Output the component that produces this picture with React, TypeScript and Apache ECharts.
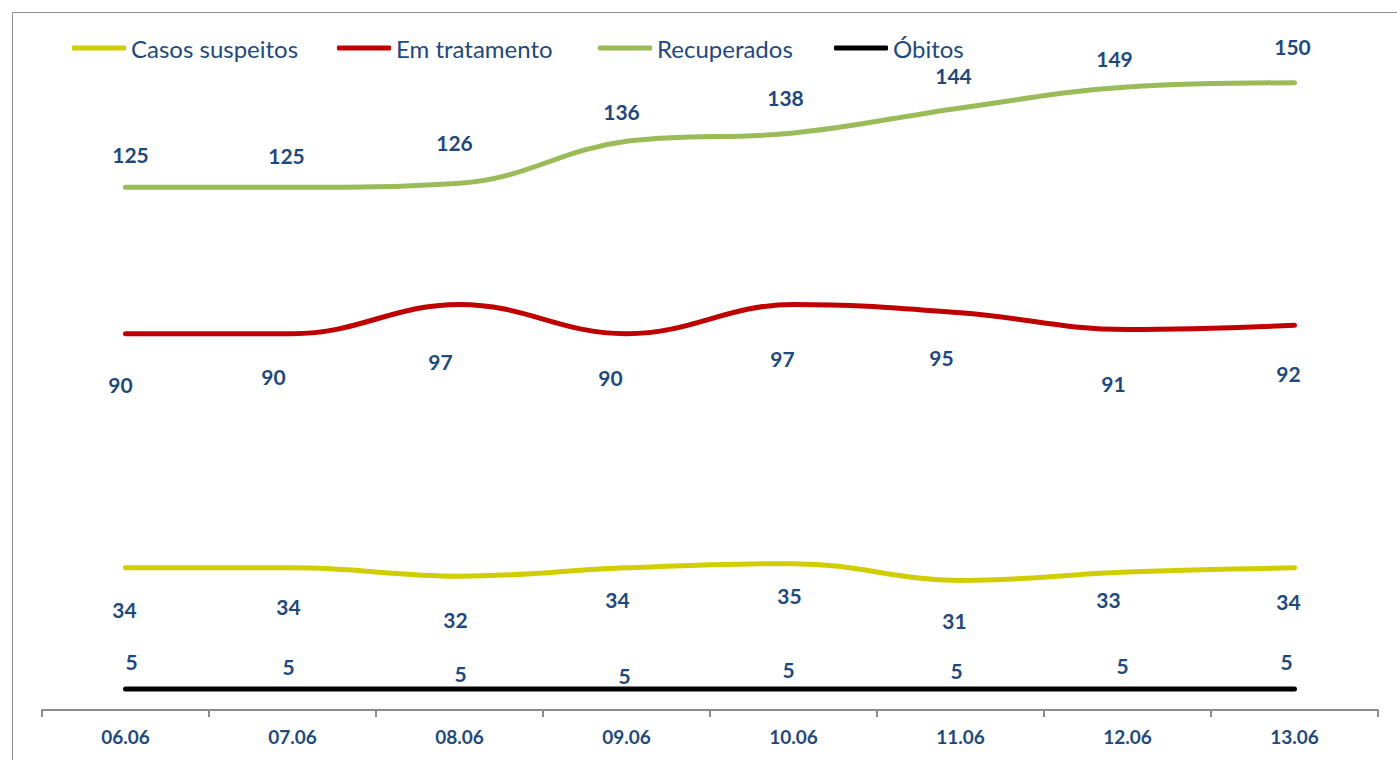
import React, { useEffect, useRef } from "react";
import * as echarts from "echarts";

const categories = ["06.06", "07.06", "08.06", "09.06", "10.06", "11.06", "12.06", "13.06"];
const casosSuspeitos = [34, 34, 32, 34, 35, 31, 33, 34];
const emTratamento = [90, 90, 97, 90, 97, 95, 91, 92];
const recuperados = [125, 125, 126, 136, 138, 144, 149, 150];
const obitos = [5, 5, 5, 5, 5, 5, 5, 5];
const seriesNames = ["Casos suspeitos", "Em tratamento", "Recuperados", "Óbitos"];
const seriesColors = ["#D0CD00", "#C00000", "#9BBB59", "#000000"];

// label offsets (style only), [dx, dy] from each point
const offCasos = [[-1, 42], [-4, 39], [-4, 43], [-9, 32], [-4, 32], [-6, 40], [-19, 27], [-6, 34]];
const offTrat = [[-5, 51], [-19, 43], [-19, 57], [-16, 44], [-11, 54], [-19, 45], [-14, 54], [-6, 48]];
const offRecup = [[5, -33], [-6, -32], [-5, -41], [-5, -30], [-8, -35], [-7, -32], [-13, -28], [-2, -36]];
const offObitos = [[6, -28], [-4, -23], [1, -16], [-2, -14], [-5, -20], [-4, -19], [-5, -24], [-8, -28]];
const legendLefts = [72, 337, 598, 834];

const LABEL_COLOR = "#1F497D";
const FONT = "Lato, 'Open Sans', sans-serif";

function makeSeries(name: string, values: number[], offsets: number[][], color: string) {
  return {
    name,
    type: "line",
    smooth: 0.4,
    symbol: "circle",
    symbolSize: 1,
    itemStyle: { color },
    lineStyle: { color, width: 5, cap: "round" },
    label: {
      show: true,
      position: "inside",
      color: LABEL_COLOR,
      fontFamily: FONT,
      fontWeight: "bold",
      fontSize: 21,
    },
    data: values.map((v, i) => ({ value: v, label: { offset: offsets[i] } })),
  };
}

export default function App() {
  const ref = useRef<HTMLDivElement>(null);
  useEffect(() => {
    if (!ref.current) return;
    const chart = echarts.init(ref.current, undefined, { renderer: "svg" });
    chart.setOption({
      animation: false,
      backgroundColor: "#ffffff",
      graphic: [
        {
          type: "rect",
          shape: { x: 12.5, y: 12.5, width: 1500, height: 900 },
          style: { fill: "none", stroke: "#8C8C8C", lineWidth: 1 },
          silent: true,
        },
      ],
      legend: seriesNames.map((n, i) => ({
        data: [n],
        left: legendLefts[i],
        top: 36,
        padding: 0,
        icon: "roundRect",
        itemWidth: 54,
        itemHeight: 5,
        textStyle: { color: LABEL_COLOR, fontFamily: FONT, fontSize: 24 },
      })),
      grid: { left: 42, right: 19, top: 41, bottom: 50, containLabel: false },
      xAxis: {
        type: "category",
        data: categories,
        boundaryGap: true,
        axisLine: { show: true, lineStyle: { color: "#8C8C8C", width: 2 } },
        axisTick: { show: true, length: 7, lineStyle: { color: "#8C8C8C", width: 2 } },
        axisLabel: {
          color: LABEL_COLOR,
          fontFamily: FONT,
          fontWeight: "bold",
          fontSize: 19,
          margin: 17,
        },
        splitLine: { show: false },
      },
      yAxis: {
        type: "value",
        min: 0,
        max: 160,
        show: false,
        splitLine: { show: false },
      },
      series: [
        makeSeries(seriesNames[0], casosSuspeitos, offCasos, seriesColors[0]),
        makeSeries(seriesNames[1], emTratamento, offTrat, seriesColors[1]),
        makeSeries(seriesNames[2], recuperados, offRecup, seriesColors[2]),
        makeSeries(seriesNames[3], obitos, offObitos, seriesColors[3]),
      ],
    });
    return () => chart.dispose();
  }, []);
  return (
    <div
      ref={ref}
      style={{ position: "fixed", left: 0, top: 0, width: 1397, height: 760, background: "#fff" }}
    />
  );
}
